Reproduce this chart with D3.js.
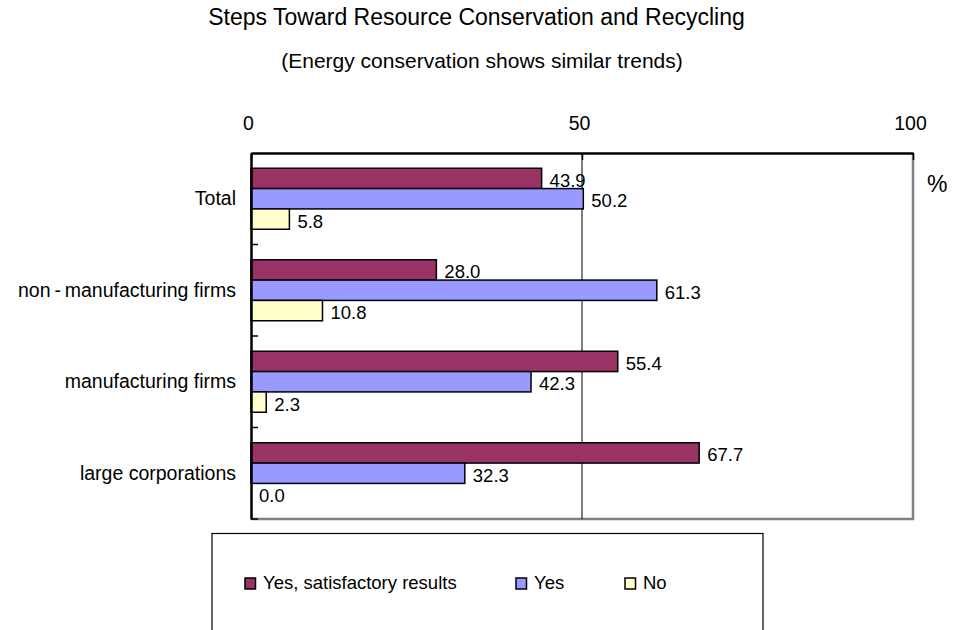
<!DOCTYPE html>
<html>
<head>
<meta charset="utf-8">
<script src="https://cdn.jsdelivr.net/npm/d3@7"></script>
<style>
  html, body { margin: 0; padding: 0; background: #fff; }
  svg { display: block; font-family: "Liberation Sans", Arial, sans-serif; }
</style>
</head>
<body>
<svg id="chart" width="953" height="630"></svg>
<script>
// Survey groups, top to bottom
const categories = ["Total", "non\u2009-\u2009manufacturing firms", "manufacturing firms", "large corporations"];
// Share of respondents (%) per answer
const series = ["Yes, satisfactory results", "Yes", "No"];
const satisfied = [43.9, 28.0, 55.4, 67.7];
const yesOnly   = [50.2, 61.3, 42.3, 32.3];
const noAnswer  = [5.8, 10.8, 2.3, 0.0];
const tickValues = [0, 50, 100];
const colors = ["#993366", "#9999FF", "#FFFFCC"];

const values = [satisfied, yesOnly, noAnswer];
const svg = d3.select("#chart");

const plot = { left: 251, right: 913, top: 153, bottom: 519 };
const x = d3.scaleLinear().domain([0, 100]).range([plot.left, plot.right]);
const y = d3.scaleBand().domain(categories).range([plot.top, plot.bottom]).padding(0);
const bw = y.bandwidth();
const barH = bw * 2 / 9;

// Titles
svg.append("text").attr("x", 476.5).attr("y", 25).attr("text-anchor", "middle")
  .attr("font-size", 23).attr("fill", "#000")
  .text("Steps Toward Resource Conservation and Recycling");
svg.append("text").attr("x", 482).attr("y", 68).attr("text-anchor", "middle")
  .attr("font-size", 21).attr("fill", "#000")
  .text("(Energy conservation shows similar trends)");

// Plot frame: gray right/bottom border
svg.append("line").attr("x1", plot.right).attr("x2", plot.right)
  .attr("y1", plot.top).attr("y2", plot.bottom + 1)
  .attr("stroke", "#808080").attr("stroke-width", 2.5);
svg.append("line").attr("x1", plot.left).attr("x2", plot.right + 1)
  .attr("y1", plot.bottom).attr("y2", plot.bottom)
  .attr("stroke", "#808080").attr("stroke-width", 2.5);

// Gridline at 50
svg.append("g").selectAll("line").data(tickValues.filter(v => v > 0 && v < 100)).join("line")
  .attr("x1", d => x(d)).attr("x2", d => x(d))
  .attr("y1", plot.top).attr("y2", plot.bottom)
  .attr("stroke", "#000").attr("stroke-width", 1);

// Bars
const rows = [];
categories.forEach((c, ci) => {
  series.forEach((s, si) => {
    rows.push({ cat: c, si, v: values[si][ci] });
  });
});
const barY = d => y(d.cat) + bw / 6 + d.si * barH;

svg.append("g").selectAll("rect").data(rows.filter(d => d.v > 0)).join("rect")
  .attr("x", x(0))
  .attr("y", barY)
  .attr("width", d => x(d.v) - x(0))
  .attr("height", barH)
  .attr("fill", d => colors[d.si])
  .attr("stroke", "#000").attr("stroke-width", 1.5);

// Value labels
svg.append("g").selectAll("text").data(rows).join("text")
  .attr("x", d => x(d.v) + 8)
  .attr("y", d => barY(d) + barH / 2 + 8.5)
  .attr("font-size", 18.5).attr("fill", "#000")
  .text(d => d.v.toFixed(1));

// Top value axis
const xAxis = svg.append("g").attr("transform", `translate(0,${plot.top})`)
  .call(d3.axisTop(x).tickValues(tickValues).tickSizeInner(-7).tickSizeOuter(0).tickPadding(23));
xAxis.select(".domain").attr("stroke", "#000").attr("stroke-width", 2.5);
xAxis.selectAll(".tick line").attr("stroke", "#000").attr("stroke-width", 1.5);
xAxis.selectAll(".tick text").attr("font-size", 19.5).attr("fill", "#000")
  .attr("font-family", "Liberation Sans, Arial, sans-serif").attr("dx", -3);

// Left category axis
const yAxis = svg.append("g").attr("transform", `translate(${plot.left},0)`)
  .call(d3.axisLeft(y).tickSize(0).tickPadding(15));
yAxis.select(".domain").attr("stroke", "#000").attr("stroke-width", 2.5);
yAxis.selectAll(".tick text").attr("font-size", 19.5).attr("fill", "#000")
  .attr("font-family", "Liberation Sans, Arial, sans-serif").attr("dy", "0.33em");

// Category separator ticks
svg.append("g").selectAll("line").data(categories).join("line")
  .attr("x1", plot.left).attr("x2", plot.left + 7)
  .attr("y1", d => y(d) + bw).attr("y2", d => y(d) + bw)
  .attr("stroke", "#000").attr("stroke-width", 1.5);

// Unit
svg.append("text").attr("x", 927).attr("y", 192).attr("font-size", 23)
  .attr("fill", "#000").text("%");

// Legend
const legend = svg.append("g");
legend.append("rect").attr("x", 212).attr("y", 533.5).attr("width", 551).attr("height", 140)
  .attr("fill", "#fff").attr("stroke", "#000").attr("stroke-width", 1.2);
const legendX = [245, 516, 625];
const items = legend.selectAll("g.item").data(series).join("g").attr("class", "item")
  .attr("transform", (d, i) => `translate(${legendX[i]},578)`);
items.append("rect").attr("width", 10.5).attr("height", 11)
  .attr("fill", (d, i) => colors[i]).attr("stroke", "#000").attr("stroke-width", 1.5);
items.append("text").attr("x", 18).attr("y", 11).attr("font-size", 18.5)
  .attr("fill", "#000").text(d => d);
</script>
</body>
</html>
